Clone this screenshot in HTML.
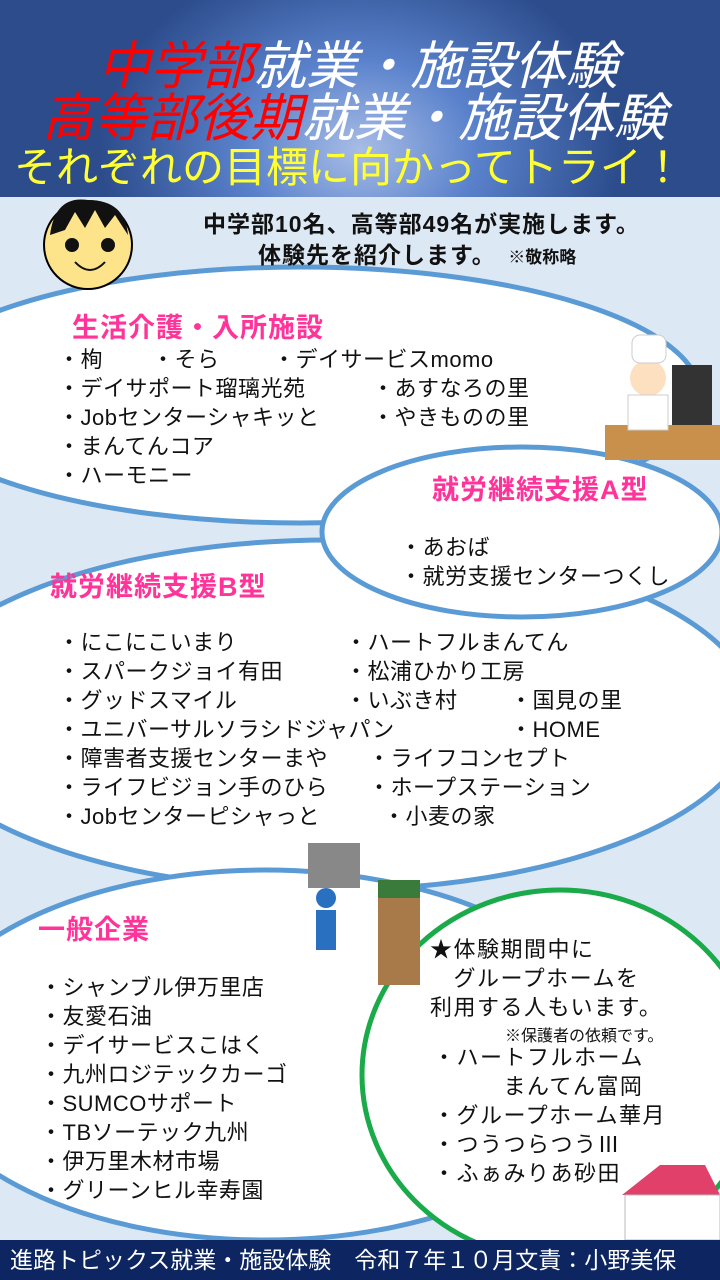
<!DOCTYPE html>
<html><head><meta charset="utf-8"><style>
*{margin:0;padding:0}
body{width:720px;height:1280px;position:relative;overflow:hidden;background:#dde8f5;font-family:"Liberation Sans","Noto Sans CJK JP",sans-serif}
.hdr{position:absolute;left:0;top:0;width:720px;height:197px;background:radial-gradient(ellipse 260px 200px at 360px 150px,#a8bde6 0%,#5a82cc 45%,#2c4c8c 100%)}
.t{position:absolute;white-space:nowrap;font-family:"Liberation Sans","Noto Sans CJK JP",sans-serif}
.big{font-size:52px;font-style:italic;line-height:54px}
.r{color:#ff0000}.w{color:#fff}
.pk{color:#ff3399;font-weight:bold;font-size:27px;letter-spacing:1px}
.l{font-size:22px;color:#111;line-height:29px;letter-spacing:0.5px}
.g{font-size:22px;color:#111;line-height:29px;letter-spacing:1.5px}
.ft{position:absolute;left:0;top:1240px;width:720px;height:40px;background:#0d2560;color:#fff;font-size:23px;line-height:40px;padding-left:10px;box-sizing:border-box;white-space:nowrap;overflow:hidden}
</style></head><body>
<div class="hdr"></div>
<div class="t big" style="left:98px;top:40px"><span class="r">中学部</span><span class="w">就業・施設体験</span></div>
<div class="t big" style="left:42px;top:92px"><span class="r">高等部後期</span><span class="w">就業・施設体験</span></div>
<div class="t" style="left:14px;top:143px;font-size:42px;color:#ffff33;line-height:50px">それぞれの目標に向かってトライ！</div>
<svg style="position:absolute;left:0;top:0" width="720" height="1280">
<ellipse cx="300" cy="395" rx="400" ry="128" fill="#fff" stroke="#5b9bd5" stroke-width="5"/>
<ellipse cx="330" cy="715" rx="425" ry="175" fill="#fff" stroke="#5b9bd5" stroke-width="5"/>
<ellipse cx="522" cy="532" rx="200" ry="85" fill="#fff" stroke="#5b9bd5" stroke-width="5"/>
<ellipse cx="265" cy="1055" rx="350" ry="185" fill="#fff" stroke="#5b9bd5" stroke-width="5"/>
<ellipse cx="560" cy="1075" rx="198" ry="185" fill="#fff" stroke="#1aaa4a" stroke-width="5"/>
<ellipse cx="88" cy="245" rx="44" ry="44" fill="#fde38a" stroke="#000" stroke-width="2"/>
<path d="M50 235 Q55 195 88 200 Q125 200 128 235 L115 215 L105 228 L95 210 L85 228 L75 212 L65 230 Z" fill="#111"/>
<circle cx="72" cy="245" r="7" fill="#111"/><circle cx="108" cy="245" r="7" fill="#111"/>
<path d="M75 262 Q90 278 105 262" stroke="#111" stroke-width="2" fill="none"/>
<rect x="605" y="425" width="115" height="35" fill="#c8904a"/>
<rect x="672" y="365" width="40" height="60" fill="#333"/>
<circle cx="648" cy="378" r="18" fill="#fde0c0"/>
<rect x="632" y="335" width="34" height="28" rx="8" fill="#fff" stroke="#ccc"/>
<rect x="628" y="395" width="40" height="35" fill="#fff" stroke="#ccc"/>
<rect x="308" y="843" width="52" height="45" fill="#888"/>
<rect x="378" y="880" width="42" height="105" fill="#a87a4a"/>
<rect x="378" y="880" width="42" height="18" fill="#3a7a3a"/>
<circle cx="326" cy="898" r="10" fill="#2a70c0"/>
<rect x="316" y="910" width="20" height="40" fill="#2a70c0"/>
<polygon points="622,1195 660,1165 705,1165 720,1195" fill="#e0406a"/>
<rect x="625" y="1195" width="95" height="45" fill="#fff" stroke="#bbb"/>
</svg>
<div class="t" style="left:203px;top:205px;font-size:23px;font-weight:bold;color:#111;letter-spacing:1px">中学部10名、高等部49名が実施します。</div>
<div class="t" style="left:258px;top:236px;font-size:23px;font-weight:bold;color:#111;letter-spacing:1px">体験先を紹介します。　<span style="font-size:17px;letter-spacing:0">※敬称略</span></div>
<div class="t pk" style="left:72px;top:306px">生活介護・入所施設</div>
<div class="t l" style="left:58px;top:345px">・栒<br>・デイサポート瑠璃光苑<br>・Jobセンターシャキッと<br>・まんてんコア<br>・ハーモニー</div>
<div class="t l" style="left:152px;top:345px">・そら</div>
<div class="t l" style="left:273px;top:345px">・デイサービスmomo</div>
<div class="t l" style="left:372px;top:374px">・あすなろの里<br>・やきものの里</div>
<div class="t pk" style="left:432px;top:468px">就労継続支援A型</div>
<div class="t l" style="left:400px;top:533px">・あおば<br>・就労支援センターつくし</div>
<div class="t pk" style="left:50px;top:565px">就労継続支援B型</div>
<div class="t l" style="left:58px;top:628px">・にこにこいまり<br>・スパークジョイ有田<br>・グッドスマイル<br>・ユニバーサルソラシドジャパン<br>・障害者支援センターまや<br>・ライフビジョン手のひら<br>・Jobセンターピシャっと</div>
<div class="t l" style="left:345px;top:628px">・ハートフルまんてん<br>・松浦ひかり工房<br>・いぶき村</div>
<div class="t l" style="left:510px;top:686px">・国見の里<br>・HOME</div>
<div class="t l" style="left:368px;top:744px">・ライフコンセプト<br>・ホープステーション</div>
<div class="t l" style="left:383px;top:802px">・小麦の家</div>
<div class="t pk" style="left:38px;top:908px">一般企業</div>
<div class="t l" style="left:40px;top:973px">・シャンブル伊万里店<br>・友愛石油<br>・デイサービスこはく<br>・九州ロジテックカーゴ<br>・SUMCOサポート<br>・TBソーテック九州<br>・伊万里木材市場<br>・グリーンヒル幸寿園</div>
<div class="t g" style="left:430px;top:935px">★体験期間中に<br>　グループホームを<br>利用する人もいます。</div>
<div class="t" style="left:505px;top:1022px;font-size:16px;color:#111">※保護者の依頼です。</div>
<div class="t g" style="left:433px;top:1043px">・ハートフルホーム<br>　　　まんてん富岡<br>・グループホーム華月<br>・つうつらつうⅢ<br>・ふぁみりあ砂田</div>
<div class="ft">進路トピックス就業・施設体験　令和７年１０月文責：小野美保</div>
</body></html>
